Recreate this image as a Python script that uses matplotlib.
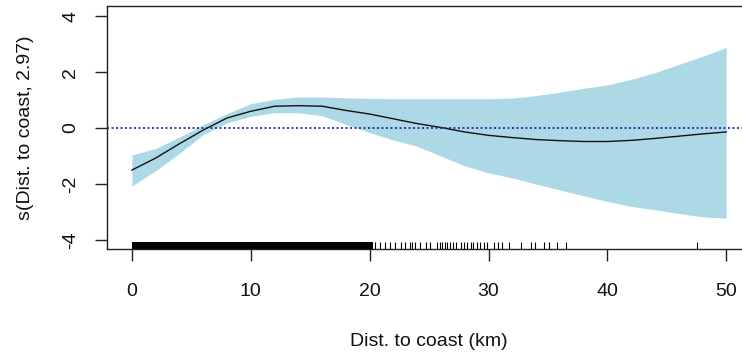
""" Smooth term plot: s(Dist. to coast, 2.97). """

import matplotlib
matplotlib.use("Agg")
import matplotlib.pyplot as plt
import matplotlib.transforms as mtransforms

plt.rcParams["font.family"] = ["Liberation Sans", "DejaVu Sans"]

dist = [0, 2, 4, 6, 8, 10, 12, 14, 16, 18, 20, 22, 24, 26, 28, 30,
        32, 34, 36, 38, 40, 42, 44, 46, 48, 50]
fit = [-1.50, -1.07, -0.56, -0.07, 0.36, 0.60, 0.78, 0.80, 0.78, 0.63,
       0.50, 0.33, 0.16, 0.02, -0.14, -0.26, -0.34, -0.41, -0.45, -0.48,
       -0.48, -0.44, -0.37, -0.29, -0.21, -0.14]
upper = [-0.96, -0.73, -0.32, 0.12, 0.52, 0.87, 1.03, 1.11, 1.11, 1.08,
         1.06, 1.05, 1.05, 1.05, 1.05, 1.05, 1.07, 1.16, 1.28, 1.42,
         1.54, 1.74, 1.98, 2.27, 2.56, 2.88]
lower = [-2.07, -1.52, -0.90, -0.23, 0.19, 0.42, 0.55, 0.55, 0.44, 0.13,
         -0.16, -0.43, -0.65, -1.00, -1.35, -1.60, -1.78, -2.00, -2.21,
         -2.42, -2.62, -2.80, -2.92, -3.05, -3.17, -3.22]

# observations too dense to separate below ~20 km
rug_dense = (0.0, 20.3)
rug = [20.45, 20.9, 21.3, 21.7, 22.1, 22.6, 23.0, 23.4, 23.6, 23.8, 24.2,
       24.7, 25.1, 25.7, 25.9, 26.1, 26.3, 26.5, 26.8, 27.0, 27.3, 27.7,
       27.9, 28.2, 28.5, 28.7, 29.0, 29.3, 29.6, 29.9, 30.5, 30.8, 31.1,
       31.7, 32.7, 33.6, 33.9, 34.7, 35.1, 35.8, 36.5, 47.5]

x_ticks = [0, 10, 20, 30, 40, 50]
y_ticks = [-4, -2, 0, 2, 4]


def main():
    fig = plt.figure(figsize=(7.42, 3.54), dpi=100)
    W, H = 742, 354
    # right edge of the box falls just outside the picture
    ax = fig.add_axes([107 / W, 105 / H, 643 / W, 243 / H])

    ax.fill_between(dist, lower, upper, color="#ADD8E6", linewidth=0)
    ax.plot(dist, fit, color="#111111", linewidth=1.0)
    ax.axhline(0, color="#1a1aa0", linestyle=(0, (1.2, 1.5)), linewidth=1.2)

    trans = mtransforms.blended_transform_factory(ax.transData, ax.transAxes)
    rug_h = 0.03
    ax.axvspan(rug_dense[0], rug_dense[1], ymin=0, ymax=rug_h,
               color="black", linewidth=0)
    ax.vlines(rug, 0, rug_h, transform=trans, color="black", linewidth=0.8)

    ax.set_xlim(-2.1, 52.0)
    ax.set_ylim(-4.32, 4.36)
    ax.set_xticks(x_ticks)
    ax.set_yticks(y_ticks)
    ax.set_yticklabels([str(v) for v in y_ticks], rotation=90, va="center")

    for s in ax.spines.values():
        s.set_linewidth(1.0)
        s.set_color("#222222")
    ax.tick_params(length=8.5, width=1.0, color="#222222", labelsize=14,
                   labelcolor="#111111")
    ax.tick_params(axis="x", pad=16)
    ax.tick_params(axis="y", pad=11.5)

    ax.set_xlabel("Dist. to coast (km)", fontsize=14, labelpad=24,
                  color="#111111")
    ax.set_ylabel("s(Dist. to coast, 2.97)", fontsize=14, labelpad=20,
                  color="#111111")

    fig.savefig("out.png", dpi=100)


if __name__ == "__main__":
    main()
